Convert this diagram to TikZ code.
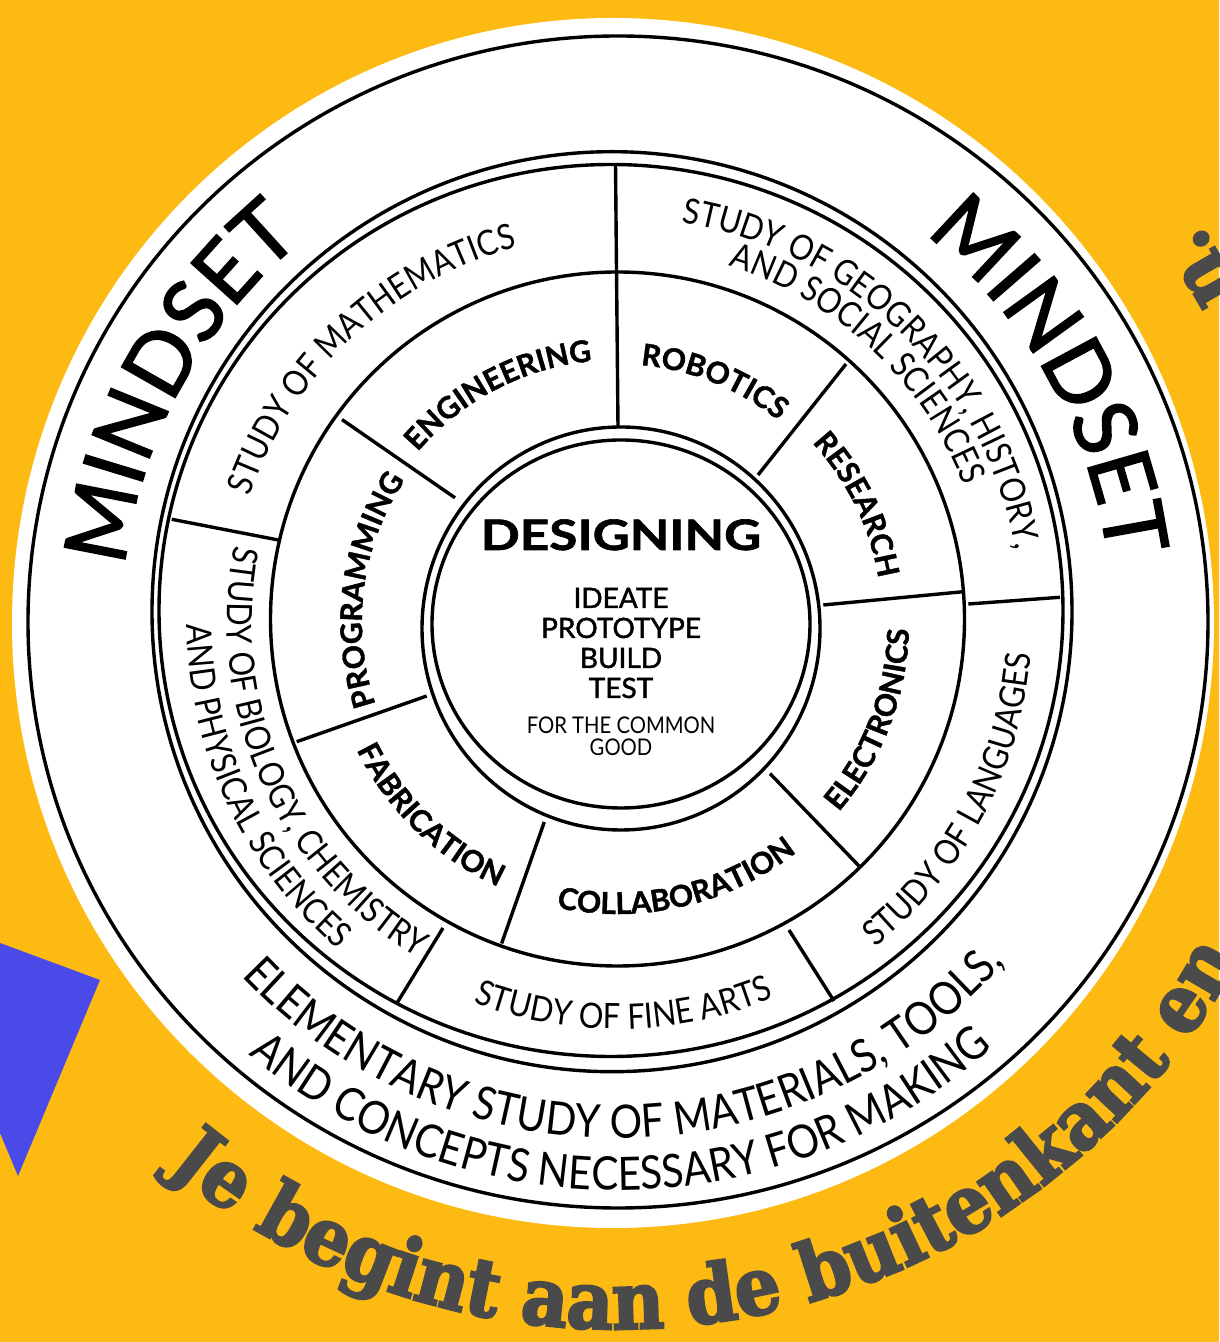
\documentclass[tikz,border=0pt]{standalone}
\usepackage{fontspec}
\setmainfont{Lato}
\newfontfamily\slab[FakeStretch=0.9,FakeBold=3]{DejaVu Serif}
\newfontfamily\latoN[FakeStretch=0.88]{Lato}
\newfontfamily\latoMind[FakeBold=1.8]{Lato}
\newfontfamily\latoMed[FakeBold=1.6]{Lato}
\newfontfamily\latoHeavy[FakeBold=1.4]{Lato}
\newfontfamily\latoWide[FakeStretch=1.22,FakeBold=1.5]{Lato}
\usetikzlibrary{decorations.text}
\definecolor{bgyellow}{RGB}{253,186,19}
\definecolor{triblue}{RGB}{74,74,232}
\definecolor{slabgray}{RGB}{74,74,74}
\newcommand\studyfont{\latoN\fontsize{35}{35}\selectfont}
\newcommand\elemfont{\latoN\fontsize{46}{46}\selectfont}
\newcommand\mindfont{\latoMind\fontsize{86}{86}\selectfont}
\newcommand\innerfont{\latoHeavy\bfseries\fontsize{30}{30}\selectfont}
\newcommand\slabtextfont{\slab\bfseries\fontsize{80}{80}\selectfont}
\begin{document}
\begin{tikzpicture}[x=1pt,y=1pt,
  ring/.style={draw=black, line width=3.4pt},
  divider/.style={draw=black, line width=3.4pt},
  ringtext/.style={decorate, decoration={text along path, text align=center, text={#1}}},
  slabtext/.style={decorate, decoration={text along path, text align=left, text color=slabgray, text={#1}}},
  centertext/.style={anchor=base, inner sep=0pt, align=center}]
\useasboundingbox (0,0) rectangle (1219,1342);
\fill[bgyellow] (0,0) rectangle (1219,1342);
\fill[triblue] (0,399) -- (100,362) -- (18,166) -- (0,209) -- cycle;
% white disc and rings
\fill[white] (613,719) ellipse [x radius=601, y radius=605];
\draw[ring] (618,720) ellipse [x radius=590, y radius=586];
% dividers
\draw[divider] (615.5,1178) -- (618,915);
\draw[divider] (171.7,822.7) -- (278.3,802);
\draw[divider] (968.3,738) -- (1060,744.7);
\draw[divider] (397,339) -- (443,414);
\draw[divider] (789,412) -- (834,341);
\draw[divider] (758,867) -- (846,978);
\draw[divider] (823.3,737) -- (963.3,750.3);
\draw[divider] (770,568.4) -- (859,476);
\draw[divider] (544.3,520) -- (501.6,398.5);
\draw[divider] (296.7,600.3) -- (426.7,646);
\draw[divider] (342,922.4) -- (455,844.2);
% circles
\draw[ring] (612,730.3) ellipse [x radius=460, y radius=460];
\draw[ring] (611,731.5) ellipse [x radius=452, y radius=446];
\draw[ring] (617.5,723) ellipse [x radius=347, y radius=347];
\fill[white] (621,713.5) ellipse [x radius=199, y radius=201.5];
\draw[ring] (621,713.5) ellipse [x radius=199, y radius=201.5];
\draw[ring] (621,718) ellipse [x radius=189, y radius=184];
% centre texts
\node[centertext] (designing) at (621,792) {\latoWide\bfseries\fontsize{42}{42}\selectfont DESIGNING};
\node[centertext] (ideate) at (621,734) {\latoMed\fontsize{28}{28}\selectfont IDEATE};
\node[centertext] (prototype) at (621,704) {\latoMed\fontsize{28}{28}\selectfont PROTOTYPE};
\node[centertext] (build) at (621,674) {\latoMed\fontsize{28}{28}\selectfont BUILD};
\node[centertext] (test) at (621,644) {\latoMed\fontsize{28}{28}\selectfont TEST};
\node[centertext] (common) at (621,608) {\latoN\fontsize{23}{23}\selectfont FOR THE COMMON};
\node[centertext] (good) at (621,586) {\latoN\fontsize{23}{23}\selectfont GOOD};
% ring texts
\begin{scope}[shift={(617,720)}]
  \path[ringtext={|\mindfont|MINDSET}] (211.5:495) arc[start angle=211.5, end angle=91.5, radius=495];
  \path[ringtext={|\mindfont|MINDSET}] (89.5:495) arc[start angle=89.5, end angle=-30.5, radius=495];
  \path[ringtext={|\elemfont|ELEMENTARY STUDY OF MATERIALS, TOOLS,}] (196:516) arc[start angle=196, end angle=346, radius=516];
  \path[ringtext={|\elemfont|AND CONCEPTS NECESSARY FOR MAKING}] (195.5:568) arc[start angle=195.5, end angle=345.5, radius=568];
  \path[ringtext={|\studyfont|STUDY OF MATHEMATICS}] (193:388) arc[start angle=193, end angle=73, radius=388];
  \path[ringtext={|\studyfont|STUDY OF GEOGRAPHY, HISTORY,}] (105.5:405) arc[start angle=105.5, end angle=-14.5, radius=405];
  \path[ringtext={|\studyfont|AND SOCIAL SCIENCES}] (107:373) arc[start angle=107, end angle=-13, radius=373];
  \path[ringtext={|\studyfont|STUDY OF LANGUAGES}] (-88:415) arc[start angle=-88, end angle=32, radius=415];
  \path[ringtext={|\studyfont|STUDY OF FINE ARTS}] (211:407) arc[start angle=211, end angle=331, radius=407];
  \path[ringtext={|\studyfont|STUDY OF BIOLOGY, CHEMISTRY}] (144:390) arc[start angle=144, end angle=264, radius=390];
  \path[ringtext={|\studyfont|AND PHYSICAL SCIENCES}] (145:430) arc[start angle=145, end angle=265, radius=430];
  \path[ringtext={|\innerfont|ENGINEERING}] (177.5:262) arc[start angle=177.5, end angle=57.5, radius=262];
  \path[ringtext={|\innerfont|ROBOTICS}] (128:258) arc[start angle=128, end angle=8, radius=258];
  \path[ringtext={|\innerfont|RESEARCH}] (86:265) arc[start angle=86, end angle=-34, radius=265];
  \path[ringtext={|\innerfont|ELECTRONICS}] (-81:292) arc[start angle=-81, end angle=39, radius=292];
  \path[ringtext={|\innerfont|COLLABORATION}] (223:292) arc[start angle=223, end angle=343, radius=292];
  \path[ringtext={|\innerfont|FABRICATION}] (166:290) arc[start angle=166, end angle=286, radius=290];
  \path[ringtext={|\innerfont|PROGRAMMING}] (232.5:255) arc[start angle=232.5, end angle=112.5, radius=255];
  % slab text outside the disc
  \path[slabtext={|\slabtextfont|Je begint aan de buitenkant en}] (230.5:707) arc[start angle=230.5, end angle=400, radius=707];
  \path[slabtext={|\slabtextfont|n.}] (28:705) arc[start angle=28, end angle=60, radius=705];
\end{scope}
\end{tikzpicture}
\end{document}
